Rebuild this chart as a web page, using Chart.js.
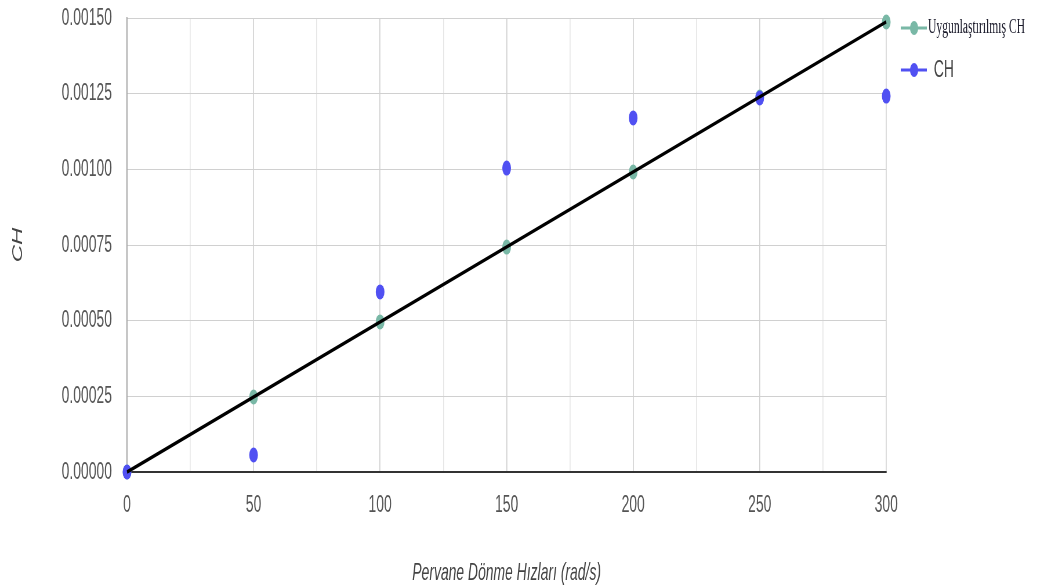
<!DOCTYPE html>
<html>
<head>
<meta charset="utf-8">
<script src="https://cdn.jsdelivr.net/npm/chart.js@4"></script>
<style>
  html, body { margin: 0; padding: 0; background: #fff; overflow: hidden; }
  /* the chart is laid out wide and squeezed back to 1038px */
  #wrap { width: 1790px; height: 588px; transform: scaleX(0.58); transform-origin: 0 0; }
</style>
</head>
<body>
<div id="wrap"><canvas id="chChart" width="1790" height="588"></canvas></div>
<script>
// propeller speed (rad/s) and thrust coefficient values
var speeds = [0, 50, 100, 150, 200, 250, 300];
var fittedCH = [0, 0.000248, 0.000496, 0.000743, 0.000991, 0.001239, 0.001487];
var measuredCH = [0, 0.000056, 0.000595, 0.001004, 0.00117, 0.001236, 0.001242];
var trendX = [0, 300];
var trendY = [0, 0.001487];
var yTicks = [0, 0.00025, 0.0005, 0.00075, 0.001, 0.00125, 0.0015];

var tealColor = '#79b8a6';
var blueColor = '#5050f2';
var sans = "'Liberation Sans', Arial, sans-serif";

function toPoints(xs, ys) {
    return xs.map(function (x, i) { return { x: x, y: ys[i] }; });
}

// legend on the right, drawn by hand so each label can keep its own font
var sideLegend = {
    id: 'sideLegend',
    afterDraw: function (chart) {
        var ctx = chart.ctx;
        var items = [
            { color: tealColor, text: 'Uygunlaştırılmış CH', font: "20px 'Liberation Serif', 'Times New Roman', serif", textColor: '#1a1a2a', y: 28, tx: 1600 },
            { color: blueColor, text: 'CH', font: '24px ' + sans, textColor: '#444', y: 70, tx: 1610 }
        ];
        ctx.save();
        items.forEach(function (it) {
            ctx.strokeStyle = it.color;
            ctx.lineWidth = 3;
            ctx.beginPath();
            ctx.moveTo(1553, it.y);
            ctx.lineTo(1598, it.y);
            ctx.stroke();
            ctx.fillStyle = it.color;
            ctx.beginPath();
            ctx.arc(1576, it.y, 7, 0, Math.PI * 2);
            ctx.fill();
            ctx.font = it.font;
            ctx.fillStyle = it.textColor;
            ctx.textBaseline = 'middle';
            ctx.textAlign = 'left';
            ctx.fillText(it.text, it.tx, it.y);
        });
        ctx.restore();
    }
};

var ctx = document.getElementById('chChart').getContext('2d');
var chChart = new Chart(ctx, {
    type: 'scatter',
    data: {
        datasets: [{
            label: 'trend',
            data: toPoints(trendX, trendY),
            showLine: true,
            borderColor: '#000',
            borderWidth: 3.5,
            pointRadius: 0,
            clip: false,
            order: 0
        }, {
            label: 'Uygunlaştırılmış CH',
            data: toPoints(speeds, fittedCH),
            backgroundColor: tealColor,
            borderColor: tealColor,
            pointRadius: 7.5,
            pointBorderWidth: 0,
            clip: false,
            order: 2
        }, {
            label: 'CH',
            data: toPoints(speeds, measuredCH),
            backgroundColor: blueColor,
            borderColor: blueColor,
            pointRadius: 7.5,
            pointBorderWidth: 0,
            clip: false,
            order: 1
        }]
    },
    options: {
        responsive: false,
        animation: false,
        layout: { padding: { top: 18, right: 262, left: 0, bottom: 0 } },
        plugins: {
            legend: { display: false },
            tooltip: { enabled: false }
        },
        scales: {
            x: {
                type: 'linear',
                min: 0,
                max: 300,
                ticks: {
                    stepSize: 25,
                    padding: 19,
                    color: '#555',
                    font: { family: sans, size: 24 },
                    callback: function (v) { return v % 50 === 0 ? v : ''; }
                },
                grid: {
                    drawTicks: false,
                    lineWidth: 1.7,
                    color: function (c) { return c.tick && c.tick.value % 50 === 0 ? '#d0d0d0' : '#e6e6e6'; }
                },
                border: { color: '#333', width: 2 },
                title: {
                    display: true,
                    text: 'Pervane Dönme Hızları (rad/s)',
                    color: '#444',
                    font: { family: sans, size: 24, style: 'italic' },
                    padding: { top: 0, bottom: 0 }
                },
                afterFit: function (s) { s.height = 116; }
            },
            y: {
                min: 0,
                max: 0.0015,
                afterBuildTicks: function (s) {
                    s.ticks = yTicks.map(function (v) { return { value: v }; });
                },
                ticks: {
                    padding: 26,
                    color: '#555',
                    font: { family: sans, size: 24 },
                    callback: function (v) { return v.toFixed(5); }
                },
                grid: { drawTicks: false, color: '#d0d0d0' },
                border: { color: '#999', width: 1.7 },
                title: {
                    display: true,
                    text: 'CH',
                    color: '#444',
                    font: { family: sans, size: 24, style: 'italic' },
                    padding: { top: 17, bottom: 0 }
                },
                afterFit: function (s) {
                    s.width = 219;
                    // let the top label overhang instead of pushing the plot down
                    s.paddingTop = 0;
                    s.paddingBottom = 0;
                }
            }
        }
    },
    plugins: [sideLegend]
});
</script>
</body>
</html>
